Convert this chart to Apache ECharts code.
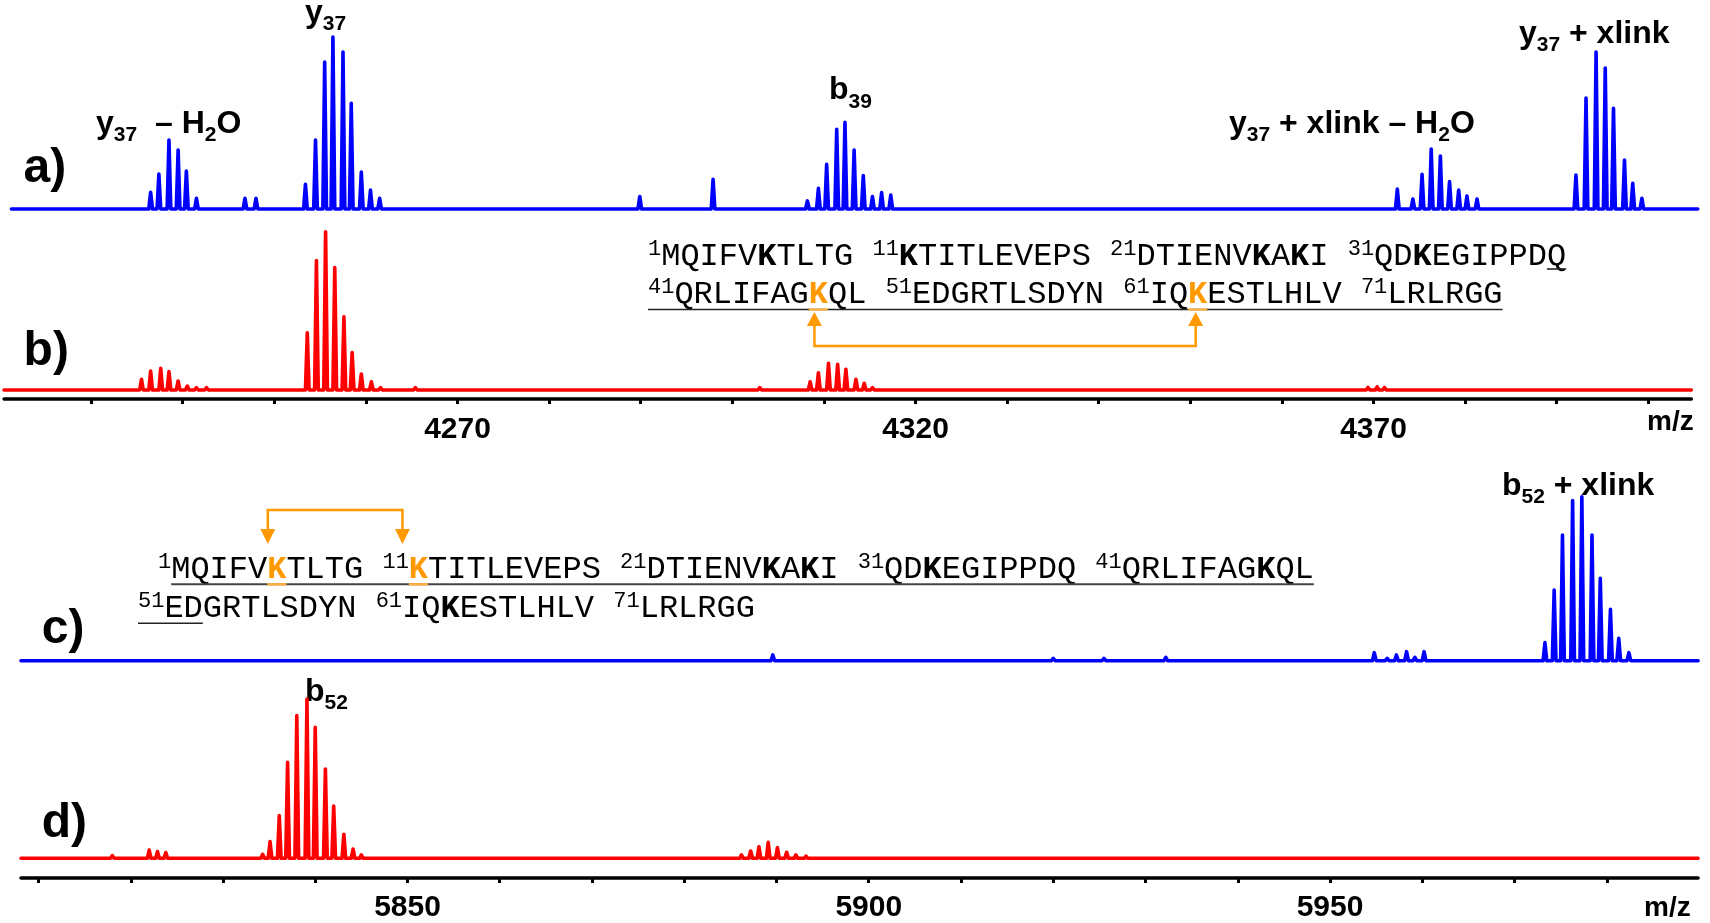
<!DOCTYPE html>
<html><head><meta charset="utf-8">
<script src="https://cdn.jsdelivr.net/npm/echarts@6/dist/echarts.min.js"></script>
<style>html,body{margin:0;padding:0;background:#fff}#c{width:1710px;height:923px}</style>
</head><body><div id="c"></div>
<script>
// ---------------- DATA (peak centroids m/z, relative intensity %) ----------------
// a) blue, 4220-4405 m/z window
const aMz  = [4236.5, 4237.4, 4238.5, 4239.5, 4240.4, 4241.5, 4246.8, 4248.0,
              4253.4, 4254.5, 4255.5, 4256.4, 4257.5, 4258.4, 4259.5, 4260.5, 4261.5,
              4289.9, 4297.9,
              4308.2, 4309.4, 4310.3, 4311.4, 4312.3, 4313.3, 4314.3, 4315.3, 4316.3, 4317.3,
              4372.6, 4374.3, 4375.3, 4376.3, 4377.3, 4378.3, 4379.3, 4380.2, 4381.3,
              4392.1, 4393.2, 4394.3, 4395.3, 4396.2, 4397.4, 4398.3, 4399.3];
const aInt = [9.7, 20.3, 40.1, 34.3, 22.1, 6.2, 6.2, 6.2,
              14.4, 40.1, 85.5, 100, 91.3, 61.5, 21.5, 11.0, 6.2,
              7.2, 17.3,
              4.7, 12.0, 26.0, 46.3, 50.4, 34.3, 19.4, 7.2, 9.5, 8.1,
              11.6, 5.8, 20.2, 34.9, 30.8, 15.9, 11.0, 7.6, 5.8,
              19.8, 64.5, 91.3, 82.0, 58.5, 28.5, 14.9, 6.2];
// b) red
const bMz  = [4235.5, 4236.5, 4237.6, 4238.5, 4239.5, 4240.5, 4241.5, 4242.6,
              4253.6, 4254.6, 4255.6, 4256.6, 4257.6, 4258.5, 4259.5, 4260.6, 4261.6, 4265.4,
              4303.0,
              4308.5, 4309.4, 4310.5, 4311.5, 4312.4, 4313.5, 4314.4, 4315.3,
              4358.8, 4368.4, 4369.4, 4370.4, 4371.2, 4372.4, 4375.9, 4382.7];
const bInt = [6.8, 12.0, 13.7, 11.6, 5.7, 2.5, 1.5, 1.5,
              36.2, 81.7, 100, 77.3, 46.3, 23.6, 10.1, 5.2, 1.5, 1.5,
              1.5,
              5.2, 10.9, 16.9, 16.2, 13.1, 6.8, 4.2, 1.5,
              1.1, 1.2, 1.6, 2.0, 1.6, 1.1, 1.1, 1.1];
// c) blue, 5808-5990 m/z window
const cMz  = [5889.6, 5920.0, 5925.5, 5932.2,
              5954.8, 5956.2, 5957.2, 5958.3, 5959.2, 5960.2, 5961.2,
              5973.3, 5974.3, 5975.2, 5976.3, 5977.3, 5978.4, 5979.3, 5980.4, 5981.3, 5982.4];
const cInt = [3.5, 1.4, 1.4, 2.0,
              4.9, 1.4, 3.5, 5.5, 2.0, 5.5, 0.6,
              11.0, 43.1, 76.6, 97.6, 100, 76.6, 50.2, 31.3, 13.6, 4.9];
// d) red
const dMz  = [5818.0, 5822.0, 5822.9, 5823.8,
              5834.3, 5835.1, 5836.1, 5837.0, 5838.0, 5839.1, 5840.0, 5841.1, 5842.0, 5843.1, 5844.1, 5845.0,
              5856.3,
              5886.2, 5887.2, 5888.1, 5889.1, 5890.1, 5891.1, 5892.1, 5893.2];
const dInt = [1.7, 5.2, 4.2, 3.6,
              2.5, 10.5, 26.8, 60.3, 89.6, 100, 82.2, 56.1, 32.8, 15.1, 5.8, 2.1,
              1.1,
              2.1, 4.6, 7.3, 10.0, 6.7, 3.8, 2.1, 1.4];
// axis ticks / labels
const topTicks  = [4230, 4240, 4250, 4260, 4270, 4280, 4290, 4300, 4310, 4320, 4330, 4340, 4350, 4360, 4370, 4380, 4390, 4400];
const topLabels = [4270, 4320, 4370];
const botTicks  = [5810, 5820, 5830, 5840, 5850, 5860, 5870, 5880, 5890, 5900, 5910, 5920, 5930, 5940, 5950, 5960, 5970, 5980];
const botLabels = [5850, 5900, 5950];
const axisTitle = 'm/z';

// ---------------- LAYOUT ----------------
const TOP = {x0: 457.5, k: 9.16, ref: 4270};
const BOT = {x0: 407.5, k: 9.225, ref: 5850};
function px(sc, v){ return sc.x0 + (v - sc.ref) * sc.k; }
function grid(sc, lo, hi, base, h){
  return {left: px(sc, lo), width: px(sc, hi) - px(sc, lo), top: base - h, height: h,
          containLabel: false, outerBoundsMode: 'none'};
}
const panels = [
  {mz: aMz, it: aInt, color: '#0000ff', sc: TOP, lo: 4221.3, hi: 4405.4, base: 209,   h: 172},
  {mz: bMz, it: bInt, color: '#ff0000', sc: TOP, lo: 4220.5, hi: 4404.7, base: 390,   h: 158.3},
  {mz: cMz, it: cInt, color: '#0000ff', sc: BOT, lo: 5808.1, hi: 5989.9, base: 660.7, h: 164},
  {mz: dMz, it: dInt, color: '#ff0000', sc: BOT, lo: 5808.1, hi: 5989.9, base: 858.3, h: 159.3}
];
const HW = 0.2; // half width of a drawn peak (m/z)
function profile(mz, it, lo, hi){
  const pts = [[lo, 0]];
  for (let i = 0; i < mz.length; i++){
    pts.push([mz[i] - HW, 0], [mz[i], it[i]], [mz[i] + HW, 0]);
  }
  pts.push([hi, 0]);
  return pts;
}

const SANS = '"Liberation Sans", Arial, sans-serif';
const MONO = '"Liberation Mono", "Courier New", monospace';
const axisStyle = (ticks, labels, offset, margin) => ({
  show: true, offset: offset,
  axisLine: {show: true, onZero: false, lineStyle: {color: '#000', width: 3.5}},
  axisTick: {show: true, inside: false, length: 5, lineStyle: {color: '#000', width: 3}, customValues: ticks},
  axisLabel: {show: true, customValues: labels, margin: margin, color: '#000', fontSize: 30,
              fontWeight: 'bold', fontFamily: SANS, formatter: v => String(v)},
  splitLine: {show: false}, minorTick: {show: false}
});

const grids = [], xAxes = [], yAxes = [], series = [];
panels.forEach((p, i) => {
  grids.push(grid(p.sc, p.lo, p.hi, p.base, p.h));
  let ax = {type: 'value', gridIndex: i, min: p.lo, max: p.hi, show: false};
  if (i === 1) ax = Object.assign(ax, axisStyle(topTicks, topLabels, 9, 16));
  if (i === 3) ax = Object.assign(ax, axisStyle(botTicks, botLabels, 19.7, 15));
  xAxes.push(ax);
  yAxes.push({type: 'value', gridIndex: i, min: 0, max: 100, show: false});
  series.push({type: 'line', xAxisIndex: i, yAxisIndex: i, data: profile(p.mz, p.it, p.lo, p.hi),
    showSymbol: false, symbol: 'none', clip: false, silent: true, animation: false,
    lineStyle: {color: p.color, width: 3.6, cap: 'round', join: 'round'}});
});

// ---------------- TEXT HELPERS ----------------
const cv = document.createElement('canvas').getContext('2d');
function fontStr(f){ return (f.w || 'normal') + ' ' + f.s + 'px ' + f.fam; }
function tw(f){ cv.font = fontStr(f); return cv.measureText(f.t).width; }
function midOff(f){
  cv.font = fontStr(f);
  const m = cv.measureText('Hg');
  if (m.fontBoundingBoxAscent !== undefined) return (m.fontBoundingBoxAscent - m.fontBoundingBoxDescent) / 2;
  return (f.fam === MONO ? 0.2665 : 0.3465) * f.s;
}
const G = [];
function run(x, B, frags){
  const ids = {};
  for (const f of frags){
    const font = fontStr(f);
    G.push({type: 'text', x: x, y: B + (f.dy || 0) - midOff(f), silent: true,
      style: {text: f.t, font: font, fill: f.c || '#000', align: 'left', verticalAlign: 'middle',
              textAlign: 'left', textVerticalAlign: 'middle'}});
    const w = tw(f);
    if (f.id) ids[f.id] = {x0: x, x1: x + w};
    x += w;
  }
  ids.end = x;
  return ids;
}
function hline(x0, x1, y, color, w){
  G.push({type: 'polyline', silent: true, shape: {points: [[x0, y], [x1, y]]},
          style: {stroke: color, lineWidth: w, fill: null}});
}
function tri(pts, color){
  G.push({type: 'polygon', silent: true, shape: {points: pts}, style: {fill: color}});
}
const ORANGE = '#ff9900';
const L  = t => ({t, s: 32, w: 'bold', fam: SANS});
const Ls = t => ({t, s: 21, w: 'bold', fam: SANS, dy: 8});
const S  = t => ({t, s: 22, fam: MONO, dy: -10});
const N  = (t, id) => ({t, s: 32, fam: MONO, id});
const Bk = t => ({t, s: 32, w: 'bold', fam: MONO});
const Ok = id => ({t: 'K', s: 32, w: 'bold', fam: MONO, c: ORANGE, id});
const P  = t => ({t, s: 48, w: 'bold', fam: SANS});

// panel letters
run(23.6, 185, [P('a)')]);
run(23.6, 368, [P('b)')]);
run(41.8, 646, [P('c)')]);
run(41.8, 840, [P('d)')]);

// peak annotations
run(305, 24,   [L('y'), Ls('37')]);
run(96, 135,   [L('y'), Ls('37')]);
run(155, 135,  [L('– H'), Ls('2'), L('O')]);
run(829, 101.5,[L('b'), Ls('39')]);
run(1229, 135, [L('y'), Ls('37'), L(' + xlink – H'), Ls('2'), L('O')]);
run(1519, 45,  [L('y'), Ls('37'), L(' + xlink')]);
run(1502, 497, [L('b'), Ls('52'), L(' + xlink')]);
run(305, 703,  [L('b'), Ls('52')]);

// axis titles
run(1647, 432, [{t: axisTitle, s: 28, w: 'bold', fam: SANS}]);
run(1644, 918, [{t: axisTitle, s: 28, w: 'bold', fam: SANS}]);

// sequence, panel b
const b1 = run(648, 265, [S('1'), N('MQIFV'), Bk('K'), N('TLTG '), S('11'), Bk('K'), N('TITLEVEPS '),
  S('21'), N('DTIENV'), Bk('K'), N('A'), Bk('K'), N('I '), S('31'), N('QD'), Bk('K'), N('EGIPPD'), N('Q', 'q')]);
const b2 = run(648, 303, [S('41'), N('QRLIFAG'), Ok('k1'), N('QL '), S('51'), N('EDGRTLSDYN '),
  S('61'), N('IQ'), Ok('k2'), N('ESTLHLV '), S('71'), N('LRLRGG')]);
hline(b1.q.x0, b1.q.x1, 269, '#222', 1.6);
hline(648, b2.end, 309.5, '#222', 1.6);
hline(b2.k1.x0, b2.k1.x1, 309.5, '#ffb040', 2.2);
hline(b2.k2.x0, b2.k2.x1, 309.5, '#ffb040', 2.2);
{
  const xa = (b2.k1.x0 + b2.k1.x1) / 2 - 4, xb = (b2.k2.x0 + b2.k2.x1) / 2 - 2;
  G.push({type: 'polyline', silent: true, shape: {points: [[xa, 324], [xa, 346], [xb, 346], [xb, 324]]},
          style: {stroke: ORANGE, lineWidth: 2.5, fill: null}});
  tri([[xa, 312], [xa - 7.5, 326], [xa + 7.5, 326]], ORANGE);
  tri([[xb, 312], [xb - 7.5, 326], [xb + 7.5, 326]], ORANGE);
}

// sequence, panel c
const c1 = run(158, 578, [S('1'), N('MQIFV', 'm'), Ok('k1'), N('TLTG '), S('11'), Ok('k2'), N('TITLEVEPS '),
  S('21'), N('DTIENV'), Bk('K'), N('A'), Bk('K'), N('I '), S('31'), N('QD'), Bk('K'), N('EGIPPDQ '),
  S('41'), N('QRLIFAG'), Bk('K'), N('QL')]);
const c2 = run(138, 617, [S('51'), N('ED', 'ed'), N('GRTLSDYN '), S('61'), N('IQ'), Bk('K'), N('ESTLHLV '),
  S('71'), N('LRLRGG')]);
hline(c1.m.x0, c1.end, 584.3, '#444', 2);
hline(c1.k1.x0, c1.k1.x1, 584.3, '#ffb040', 2.4);
hline(c1.k2.x0, c1.k2.x1, 584.3, '#ffb040', 2.4);
hline(138, c2.ed.x1, 623.3, '#222', 1.6);
{
  const xa = (c1.k1.x0 + c1.k1.x1) / 2 - 9, xb = (c1.k2.x0 + c1.k2.x1) / 2 - 16;
  G.push({type: 'polyline', silent: true, shape: {points: [[xa, 531], [xa, 510], [xb, 510], [xb, 531]]},
          style: {stroke: ORANGE, lineWidth: 2.5, fill: null}});
  tri([[xa, 544], [xa - 7.5, 529], [xa + 7.5, 529]], ORANGE);
  tri([[xb, 544], [xb - 7.5, 529], [xb + 7.5, 529]], ORANGE);
}

const chart = echarts.init(document.getElementById('c'), null, {renderer: 'canvas', width: 1710, height: 923});
chart.setOption({
  backgroundColor: '#ffffff',
  animation: false,
  grid: grids, xAxis: xAxes, yAxis: yAxes, series: series,
  graphic: {elements: G}
});
</script></body></html>
